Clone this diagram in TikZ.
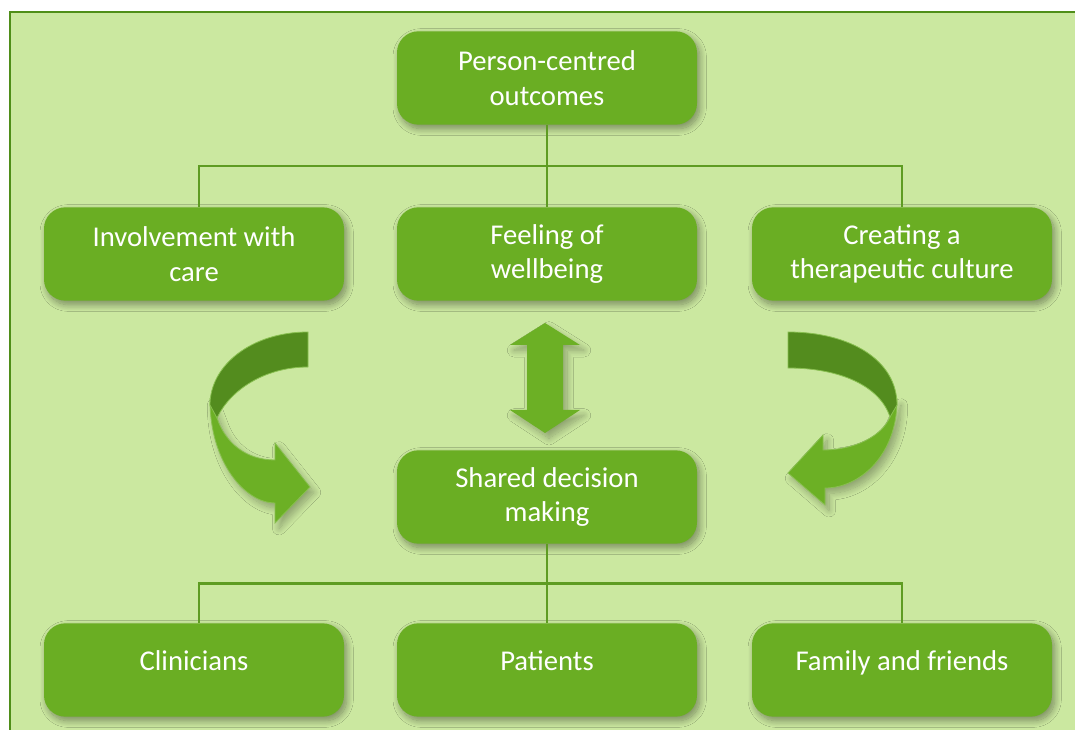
\documentclass[tikz,border=0pt]{standalone}
\usepackage{fontspec}
\setmainfont{Carlito}
\usetikzlibrary{calc,shadows.blur}
\definecolor{pagegreen}{HTML}{CBE8A0}
\definecolor{framegreen}{HTML}{4F8E18}
\definecolor{boxgreen}{HTML}{6AAE23}
\definecolor{linegreen}{HTML}{5E9C22}
\definecolor{darkband}{HTML}{538C1E}
\definecolor{lightband}{HTML}{6CB025}
\tikzset{
    box_node/.style={rounded corners=16pt, fill=boxgreen, draw=none,
                     minimum width=225pt, minimum height=70pt, inner sep=4pt,
                     text=white, align=center, font=\fontsize{21.5}{26}\selectfont,
                     blur shadow={shadow xshift=2pt, shadow yshift=-3pt,
                                  shadow blur radius=5pt, shadow blur steps=12,
                                  shadow opacity=40}},
    one_line/.style={text height=15pt, text depth=13.5pt},
    tree_line/.style={draw=linegreen, line width=1.6pt},
    band_dark/.style={fill=darkband, draw=lightband!80!white, line width=0.6pt},
    band_light/.style={fill=lightband, draw=lightband!80!white, line width=0.6pt},
    arrow_shade/.style={blur shadow={shadow xshift=3pt, shadow yshift=-4pt,
                                     shadow blur radius=5pt, shadow blur steps=12,
                                     shadow opacity=30}}
}
\begin{document}
\begin{tikzpicture}[x=0.75pt, y=-0.75pt]
    \useasboundingbox (0,0) rectangle (1075,730);
    % page and frame
    \fill[white] (0,0) rectangle (1075,730);
    \draw[framegreen, fill=pagegreen, line width=1.6pt] (10,12) rectangle (1090,745);

    % boxes
    \node[box_node] (outcomes) at (547,78) {Person-centred\\outcomes};
    \node[box_node] (involve) at (194,254) {Involvement with\\care};
    \node[box_node] (wellbeing) at (547,254) {Feeling of\\wellbeing};
    \node[box_node] (culture) at (902,254) {Creating a\\therapeutic culture};
    \node[box_node] (shared) at (547,497) {Shared decision\\making};
    \node[box_node, one_line] (clinicians) at (194,670) {Clinicians};
    \node[box_node, one_line] (patients) at (547,670) {Patients};
    \node[box_node, one_line] (family) at (902,670) {Family and friends};

    % tree connectors
    \coordinate (topbar) at ($(outcomes.south)!0.5!(wellbeing.north)$);
    \draw[tree_line] (outcomes.south) -- (wellbeing.north);
    \draw[tree_line] ([xshift=3.75pt]involve.north) |- (topbar) -| (culture.north);
    \coordinate (lowbar) at ($(shared.south)!0.5!(patients.north)$);
    \draw[tree_line] (shared.south) -- (patients.north);
    \draw[tree_line] ([xshift=3.75pt]clinicians.north) |- (lowbar) -| (family.north);

    % up-down arrow
    \fill[lightband, arrow_shade] (545,323) -- (580,345) -- (563,345) -- (563,410)
        -- (580,410) -- (545,433) -- (510,410) -- (527,410) -- (527,345)
        -- (510,345) -- cycle;

    % left curved arrow
    \path[band_light, arrow_shade] (210,400) .. controls (210,462) and (245,503) .. (275,503)
        -- (275,523) -- (310,487) -- (275,443) -- (275,460)
        .. controls (245,460) and (225,442) .. (217,418) -- cycle;
    \path[band_dark] (308,332) .. controls (252,332) and (210,365) .. (210,405)
        -- (217,418) .. controls (230,390) and (265,367) .. (308,367) -- cycle;

    % right curved arrow
    \path[band_light, arrow_shade] (897,400) .. controls (897,455) and (860,488) .. (825,488)
        -- (825,505) -- (788,473) -- (823,435) -- (823,450)
        .. controls (855,450) and (882,436) .. (890,417) -- cycle;
    \path[band_dark] (788,332) .. controls (850,332) and (897,360) .. (897,405)
        -- (890,417) .. controls (880,386) and (840,368) .. (788,368) -- cycle;
\end{tikzpicture}
\end{document}
